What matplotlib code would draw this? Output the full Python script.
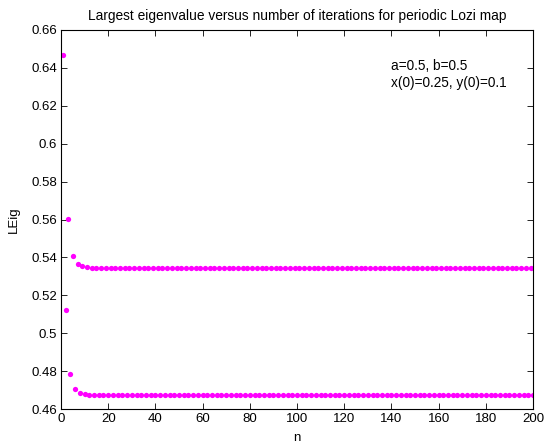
import numpy as np
import matplotlib.pyplot as plt

plt.rcParams['font.family'] = ['Liberation Sans', 'DejaVu Sans']

# Largest eigenvalue at each iteration: odd n settle on the upper branch,
# even n on the lower branch
n_odd = np.arange(1, 200, 2)
n_even = np.arange(2, 201, 2)

upper_start = [0.647, 0.5605, 0.5405, 0.5365, 0.5352, 0.5348, 0.5345, 0.5343]
upper_tail = 0.5342
lower_start = [0.5125, 0.4785, 0.4705, 0.4682, 0.4678, 0.4676, 0.4675]
lower_tail = 0.4674

leig_odd = upper_start + [upper_tail] * (len(n_odd) - len(upper_start))
leig_even = lower_start + [lower_tail] * (len(n_even) - len(lower_start))

n = np.concatenate([n_odd, n_even])
leig = np.concatenate([leig_odd, leig_even])

xticks = np.arange(0, 201, 20)
yticks = np.arange(0.46, 0.661, 0.02)

fig = plt.figure(figsize=(5.45, 4.48), dpi=100)
ax = fig.add_axes([61 / 545, 1 - 409 / 448, (533 - 61) / 545, (409 - 30) / 448])

ax.plot(n, leig, linestyle='none', marker='o', markersize=3.8,
        color='#ff00ff', markeredgewidth=0)

ax.set_xlim(0, 200)
ax.set_ylim(0.46, 0.66)
ax.set_xticks(xticks)
ax.set_yticks(yticks)
ax.set_yticklabels([f'{v:g}' for v in np.round(yticks, 2)])
ax.tick_params(direction='in', top=True, right=True, length=4, width=0.6,
               labelsize=9.5, pad=3)
for s in ax.spines.values():
    s.set_linewidth(0.8)

ax.set_title('Largest eigenvalue versus number of iterations for periodic Lozi map',
             fontsize=9.9, pad=7)
ax.set_xlabel('n', fontsize=9.5, labelpad=5)
ax.set_ylabel('LEig', fontsize=9.5, labelpad=8)

ax.text(140, 0.641, 'a=0.5, b=0.5', fontsize=9.8, va='center')
ax.text(140, 0.6322, 'x(0)=0.25, y(0)=0.1', fontsize=9.8, va='center')

fig.savefig('out.png', dpi=100)
